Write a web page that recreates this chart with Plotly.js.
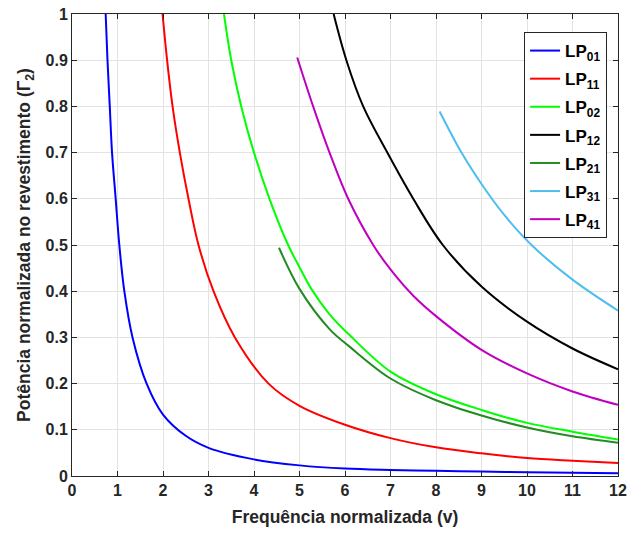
<!DOCTYPE html>
<html>
<head>
<meta charset="utf-8">
<script src="https://cdn.plot.ly/plotly-3.0.1.min.js"></script>
<style>body{margin:0;background:#fff;} #chart{width:631px;height:536px;}</style>
</head>
<body>
<div id="chart"></div>
<script>
// LP01
const v01 = [0.74,0.78,0.83,0.88,0.96,1.04,1.15,1.33,1.64,2.0,2.5,3.0,4.0,5.0,6.0,7,8,9,10,11,12];
const g01 = [1.0,0.9,0.8,0.7,0.6,0.5,0.4,0.3,0.2,0.133,0.087,0.061,0.036,0.023,0.016,0.013,0.0112,0.0095,0.008,0.007,0.006];
// LP11
const v11 = [1.99,2.09,2.21,2.37,2.56,2.78,3.11,3.58,4.32,5,6,7,8,9,10,11,12];
const g11 = [1,0.9,0.8,0.7,0.6,0.5,0.4,0.3,0.2,0.152,0.111,0.082,0.062,0.049,0.039,0.033,0.028];
// LP02
const v02 = [3.34,3.50,3.72,4.00,4.34,4.75,5.0,5.26,5.66,6.1,7,8,9,10,11,12];
const g02 = [1,0.9,0.8,0.7,0.6,0.5,0.452,0.405,0.35,0.305,0.226,0.177,0.143,0.115,0.096,0.079];
// LP12
const v12 = [5.75,6.03,6.40,6.93,7.5,8.15,9,10,11,12];
const g12 = [1,0.9,0.8,0.7,0.6,0.5,0.41,0.334,0.276,0.231];
// LP21
const v21 = [4.55,5.0,5.66,6.1,7,8,9,10,11,12];
const g21 = [0.494,0.405,0.318,0.28,0.211,0.164,0.131,0.105,0.086,0.072];
// LP31
const v31 = [8.08,8.56,9.0,9.5,10.1,11,12];
const g31 = [0.789,0.7,0.632,0.565,0.5,0.425,0.358];
// LP41
const v41 = [4.95,5.30,5.66,6.07,6.62,7,7.5,8,9,10,11,12];
const g41 = [0.906,0.8,0.7,0.6,0.5,0.447,0.39,0.346,0.273,0.222,0.183,0.154];

const names = ['LP<sub>01</sub>','LP<sub>11</sub>','LP<sub>02</sub>','LP<sub>12</sub>','LP<sub>21</sub>','LP<sub>31</sub>','LP<sub>41</sub>'];
const xs = [v01,v11,v02,v12,v21,v31,v41];
const ys = [g01,g11,g02,g12,g21,g31,g41];
const colors = ['#0000ff','#ff0000','#00ff00','#000000','#228b22','#4dbeee','#bf00bf'];

const xTicks = [0,1,2,3,4,5,6,7,8,9,10,11,12];
const yTicks = [0,0.1,0.2,0.3,0.4,0.5,0.6,0.7,0.8,0.9,1];
const yTickText = ['0','0.1','0.2','0.3','0.4','0.5','0.6','0.7','0.8','0.9','1'];

const traces = xs.map((x,i)=>({
  x: x, y: ys[i], name: names[i], type:'scatter', mode:'lines', legendgroup:'g'+i,
  line:{color:colors[i], width:2, shape:'spline', smoothing:1}
}));

const fam = 'Liberation Sans, Arial, sans-serif';
const layout = {
  width:631, height:536,
  margin:{l:72,r:13,t:14,b:60},
  paper_bgcolor:'#fff', plot_bgcolor:'#fff',
  showlegend:true,
  font:{family:fam, size:15, color:'#262626', weight:'bold'},
  xaxis:{
    range:[0,12], tickvals:xTicks, ticktext:xTicks.map(String),
    showgrid:true, gridcolor:'#e3e3e3', gridwidth:1,
    showline:true, linecolor:'#262626', linewidth:1, mirror:'ticks',
    ticks:'inside', ticklen:5, tickcolor:'#262626', zeroline:false,
    tickfont:{family:fam,size:16,color:'#262626',weight:'bold'},
    title:{text:'Frequência normalizada (v)', font:{family:fam,size:17.5,color:'#262626',weight:'bold'}, standoff:12}
  },
  yaxis:{
    range:[0,1], tickvals:yTicks, ticktext:yTickText,
    showgrid:true, gridcolor:'#e3e3e3', gridwidth:1,
    showline:true, linecolor:'#262626', linewidth:1, mirror:'ticks',
    ticks:'inside', ticklen:5, tickcolor:'#262626', zeroline:false,
    tickfont:{family:fam,size:16,color:'#262626',weight:'bold'},
    title:{text:'Potência normalizada no revestimento (Γ<sub>2</sub>)', font:{family:fam,size:17.5,color:'#262626',weight:'bold'}, standoff:10}
  },
  legend:{
    x:0.98, y:0.961, xanchor:'right', yanchor:'top',
    bgcolor:'#ffffff', bordercolor:'#262626', borderwidth:1,
    font:{family:fam,size:17,color:'#000',weight:'bold'},
    itemwidth:30, tracegroupgap:3
  }
};
Plotly.newPlot('chart', traces, layout, {displayModeBar:false, staticPlot:true});
</script>
</body>
</html>
